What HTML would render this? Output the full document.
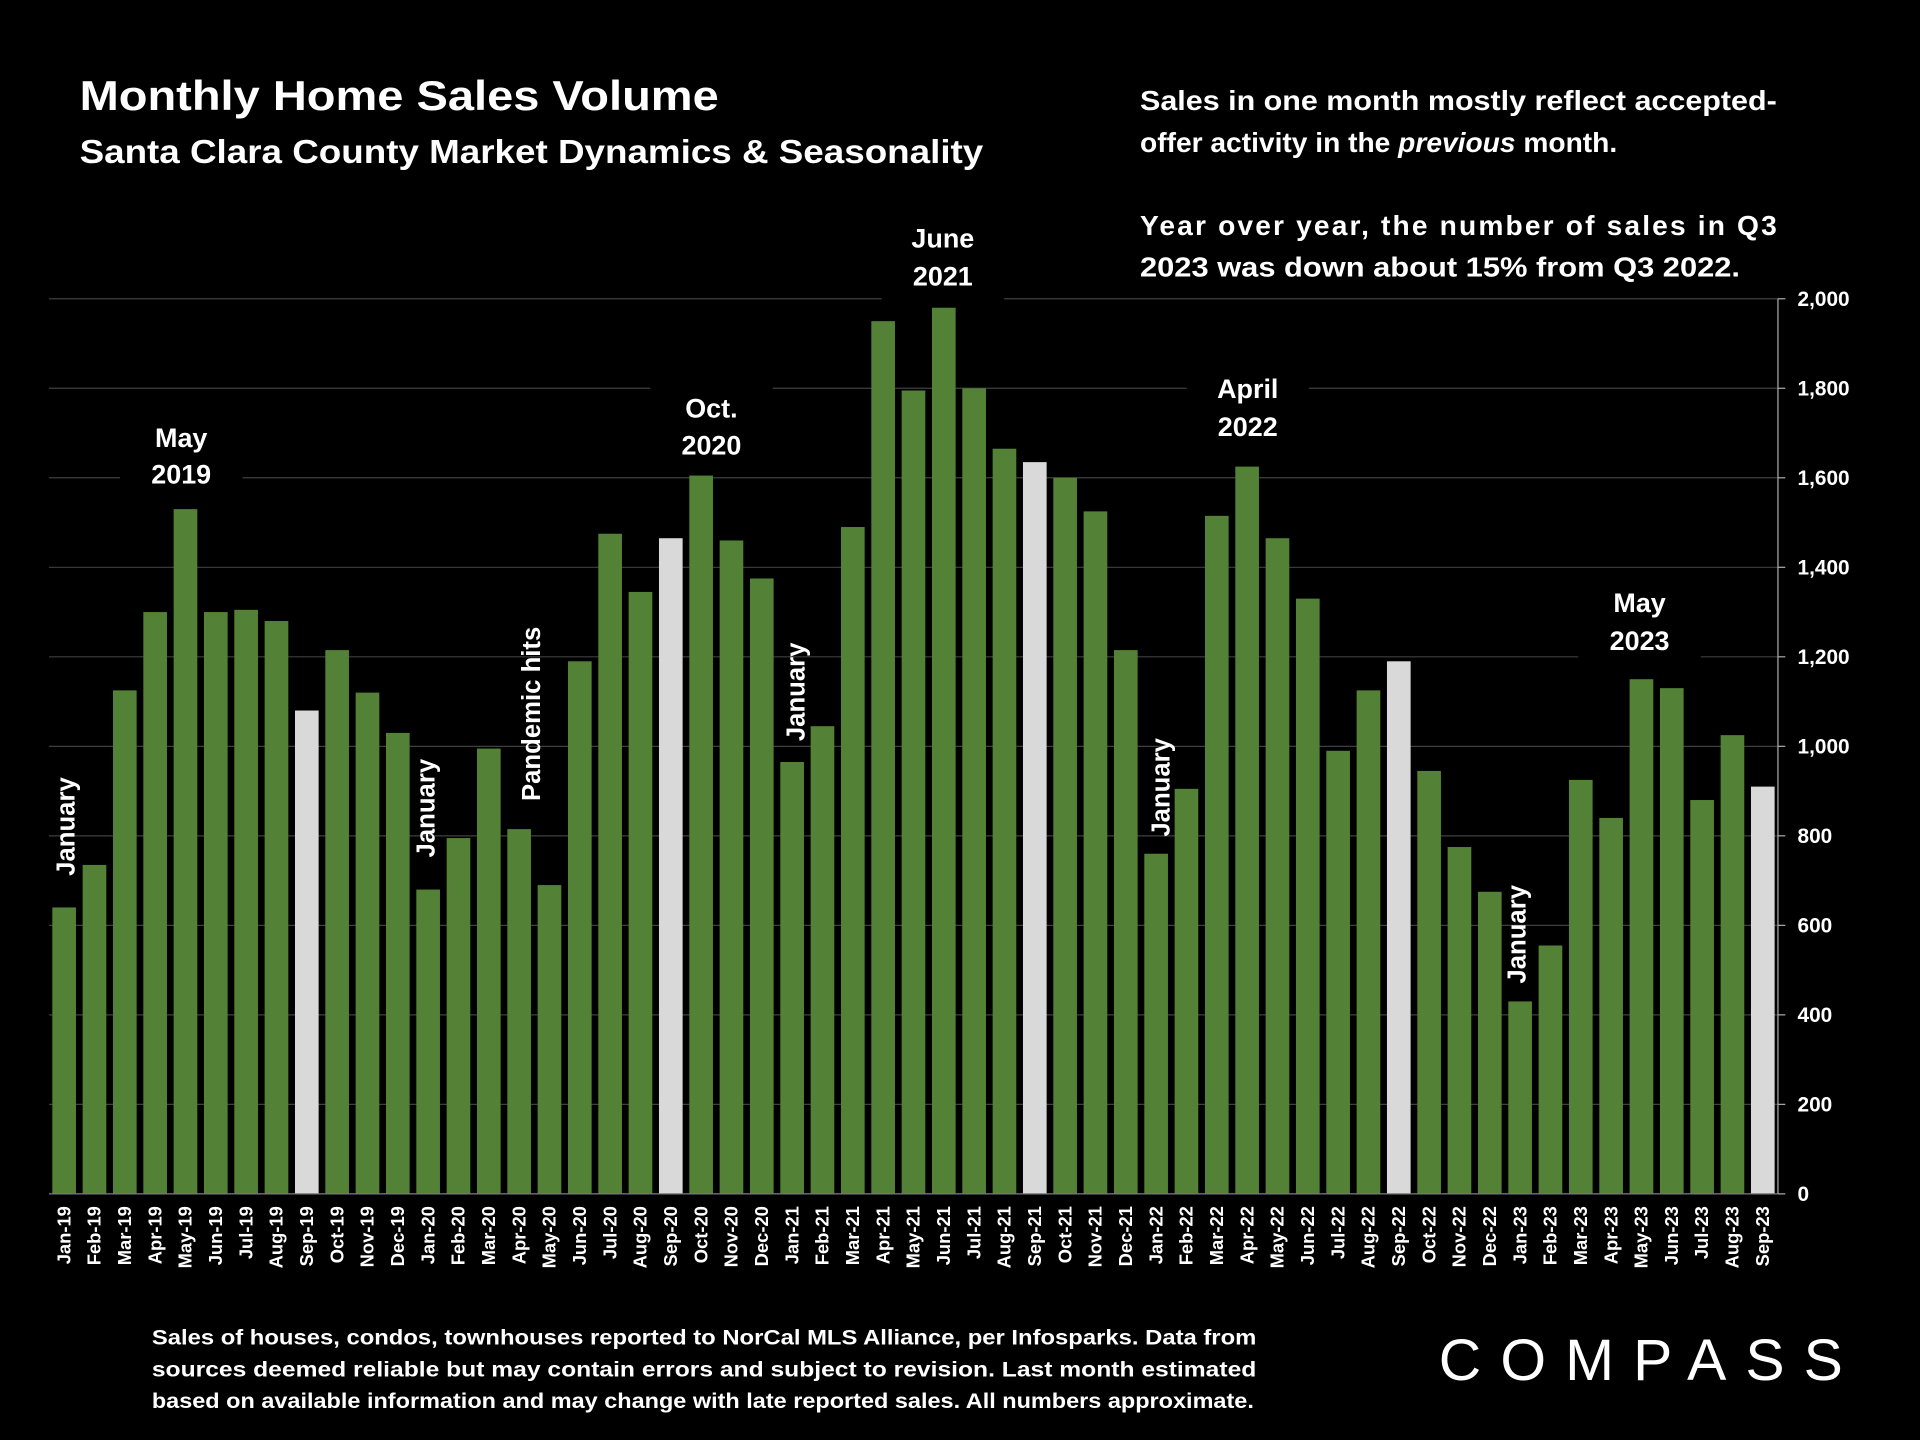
<!DOCTYPE html>
<html><head><meta charset="utf-8"><style>
html,body{margin:0;padding:0;background:#000;}
svg{display:block;}
text{font-family:"Liberation Sans",sans-serif;font-weight:bold;fill:#fff;}
</style></head><body>
<svg id="chart" width="1920" height="1440" viewBox="0 0 1568 1176" xmlns="http://www.w3.org/2000/svg">
<rect width="1568" height="1176" fill="#000"/>
<text x="65" y="90" font-size="34" textLength="522" lengthAdjust="spacingAndGlyphs">Monthly Home Sales Volume</text>
<text x="65" y="133" font-size="27" textLength="738" lengthAdjust="spacingAndGlyphs">Santa Clara County Market Dynamics &amp; Seasonality</text>
<g font-size="23">
<text x="931" y="90" textLength="520" lengthAdjust="spacingAndGlyphs">Sales in one month mostly reflect accepted-</text>
<text x="931" y="124">offer activity in the <tspan font-style="italic">previous</tspan> month.</text>
<text x="931" y="192" textLength="520" lengthAdjust="spacing">Year over year, the number of sales in Q3</text>
<text x="931" y="226" textLength="490" lengthAdjust="spacingAndGlyphs">2023 was down about 15% from Q3 2022.</text>
</g>
<g id="grid"></g><g id="bars"></g><g id="axes"></g><g id="notes"></g>
<g font-size="17.5">
<text x="124" y="1098" textLength="902" lengthAdjust="spacingAndGlyphs">Sales of houses, condos, townhouses reported to NorCal MLS Alliance, per Infosparks. Data from</text>
<text x="124" y="1124" textLength="902" lengthAdjust="spacingAndGlyphs">sources deemed reliable but may contain errors and subject to revision. Last month estimated</text>
<text x="124" y="1150" textLength="900" lengthAdjust="spacingAndGlyphs">based on available information and may change with late reported sales. All numbers approximate.</text>
</g>
<text x="1175" y="1127" font-size="48" style="font-weight:normal" textLength="330" lengthAdjust="spacing">COMPASS</text>
</svg>
<script>
const categories=["Jan-19","Feb-19","Mar-19","Apr-19","May-19","Jun-19","Jul-19","Aug-19","Sep-19","Oct-19","Nov-19","Dec-19","Jan-20","Feb-20","Mar-20","Apr-20","May-20","Jun-20","Jul-20","Aug-20","Sep-20","Oct-20","Nov-20","Dec-20","Jan-21","Feb-21","Mar-21","Apr-21","May-21","Jun-21","Jul-21","Aug-21","Sep-21","Oct-21","Nov-21","Dec-21","Jan-22","Feb-22","Mar-22","Apr-22","May-22","Jun-22","Jul-22","Aug-22","Sep-22","Oct-22","Nov-22","Dec-22","Jan-23","Feb-23","Mar-23","Apr-23","May-23","Jun-23","Jul-23","Aug-23","Sep-23"];
const sales=[640,735,1125,1300,1530,1300,1305,1280,1080,1215,1120,1030,680,795,995,815,690,1190,1475,1345,1465,1605,1460,1375,965,1045,1490,1950,1795,1980,1800,1665,1635,1600,1525,1215,760,905,1515,1625,1465,1330,990,1125,1190,945,775,675,430,555,925,840,1150,1130,880,1025,910];
const yTicks=[0,200,400,600,800,1000,1200,1400,1600,1800,2000];
const NS="http://www.w3.org/2000/svg";
const L=40,R=1452,Y0=975,Y1=244,YMAX=2000;
const step=(R-L)/categories.length;
const x=i=>L+step*i+step/2;
const y=v=>Y0-(v/YMAX)*(Y0-Y1);
function mk(tag,attrs,parent){const e=document.createElementNS(NS,tag);for(const k in attrs)e.setAttribute(k,attrs[k]);parent.appendChild(e);return e;}
const grid=document.getElementById('grid'),bars=document.getElementById('bars'),axes=document.getElementById('axes'),notes=document.getElementById('notes');
yTicks.forEach(t=>{
  const g=mk('line',{x1:L,x2:R,y1:y(t),y2:y(t),stroke:'#3f3f3f','stroke-width':1},grid);
  
  
  const tk=mk('line',{x1:R,x2:R+6,y1:y(t),y2:y(t),stroke:'#aaa','stroke-width':1},axes);
  
  
  const lb=mk('text',{x:1468,y:y(t)+6,'font-size':17},axes);
  lb.textContent=t.toLocaleString('en-US');
  
  
});
const ax=mk('line',{x1:R,x2:R,y1:Y1,y2:Y0,stroke:'#aaa','stroke-width':1},axes);


const bw=step*0.78;
categories.forEach((c,i)=>{
  const v=sales[i];
  const b=mk('rect',{x:x(i)-bw/2,y:y(v),width:bw,height:Y0-y(v),fill:c.startsWith('Sep')?'#d9d9d9':'#538135'},bars);
  
  
  const t=mk('text',{x:0,y:0,'font-size':15,'text-anchor':'end',transform:`translate(${x(i)+5},${Y0+10}) rotate(-90)`},axes);
  t.textContent=c;
  
  
});
const bl=mk('line',{x1:L,x2:R,y1:Y0,y2:Y0,stroke:'#777','stroke-width':1},axes);


const hNotes=[[148,365,395,'May','2019'],[581,341,371,'Oct.','2020'],[770,202,233,'June','2021'],[1019,325,356,'April','2022'],[1339,500,531,'May','2023']];
hNotes.forEach(n=>{
  const bg=mk('rect',{x:n[0]-50,y:n[1]-28,width:100,height:n[2]-n[1]+40,fill:'#000'},notes);
  
  
  [[n[1],n[3]],[n[2],n[4]]].forEach(p=>{
    const t=mk('text',{x:n[0],y:p[0],'font-size':22,'text-anchor':'middle'},notes);
    t.textContent=p[1];
    
    
  });
});
const vNotes=[[53,675,'January'],[347,660,'January'],[433,583,'Pandemic hits'],[649,565,'January'],[947,643,'January'],[1238,763,'January']];
vNotes.forEach(n=>{
  const t=mk('text',{x:0,y:0,'font-size':21,'text-anchor':'middle',transform:`translate(${n[0]+8},${n[1]}) rotate(-90)`},notes);
  t.textContent=n[2];
  
  
});
</script>
</body></html>
